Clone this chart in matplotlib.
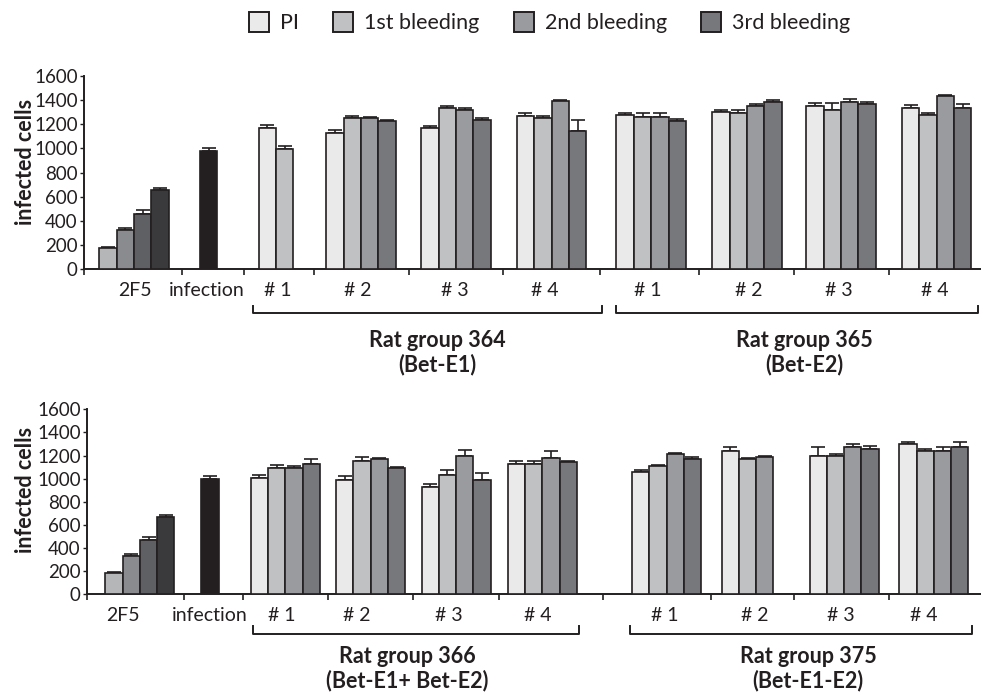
import matplotlib
matplotlib.use("Agg")
import matplotlib.pyplot as plt
from matplotlib.patches import Patch
from matplotlib.transforms import blended_transform_factory

plt.rcParams['font.family'] = ['Lato', 'DejaVu Sans']

# ---- data ----
series = ['PI', '1st bleeding', '2nd bleeding', '3rd bleeding']
cats = ['2F5', 'infection', '# 1', '# 2', '# 3', '# 4', '# 1', '# 2', '# 3', '# 4']

# top panel: rat groups 364 and 365
top_vals = [
    [180, 322, 460, 655],
    [978],
    [1168, 997],
    [1124, 1250, 1250, 1226],
    [1170, 1336, 1319, 1237],
    [1264, 1253, 1393, 1143],
    [1272, 1256, 1256, 1228],
    [1303, 1289, 1352, 1383],
    [1352, 1316, 1383, 1369],
    [1333, 1272, 1429, 1333],
]
top_err = [
    [5, 17, 28, 14],
    [22],
    [25, 19],
    [30, 19, 11, 11],
    [11, 11, 17, 11],
    [28, 14, 8, 91],
    [19, 39, 39, 17],
    [17, 30, 17, 17],
    [22, 58, 22, 17],
    [22, 19, 14, 36],
]
# bottom panel: rat groups 366 and 375
bot_vals = [
    [187, 329, 473, 669],
    [998],
    [1006, 1093, 1093, 1124],
    [986, 1156, 1170, 1096],
    [928, 1032, 1199, 986],
    [1124, 1124, 1182, 1142],
    [1061, 1110, 1214, 1170],
    [1243, 1168, 1185],
    [1196, 1196, 1271, 1260],
    [1303, 1243, 1243, 1271],
]
bot_err = [
    [5, 17, 26, 17],
    [23],
    [26, 29, 17, 46],
    [35, 29, 9, 9],
    [29, 46, 46, 63],
    [29, 29, 60, 14],
    [14, 12, 12, 17],
    [32, 12, 14],
    [75, 14, 32, 26],
    [17, 17, 29, 46],
]
top_groups = ['Rat group 364\n(Bet-E1)', 'Rat group 365\n(Bet-E2)']
bot_groups = ['Rat group 366\n(Bet-E1+ Bet-E2)', 'Rat group 375\n(Bet-E1-E2)']

# ---- style / layout ----
bleed_colors = ['#e9eae9', '#c0c1c3', '#9a9b9e', '#77787c']
f5_colors = ['#b5b6b8', '#8a8b8e', '#5f6064', '#3a3a3c']
inf_color = '#231f20'
edge = '#231f20'

fig = plt.figure(figsize=(9.81, 6.97), dpi=100)

panels = [
    dict(rect=[84 / 981, 0.6136, 897 / 981, 0.2778], xmax=51.55,
         vals=top_vals, err=top_err, groups=top_groups,
         centers=[2.87, 7.16, 11.03, 15.92, 21.38, 26.87, 32.6, 38.1, 43.5, 49.0],
         labpos=[2.93, 7.07, 11.15, 15.75, 21.3, 26.5, 32.4, 38.2, 43.4, 48.9],
         ticks=[0, 5.63, 9.2, 13.2, 18.68, 24.1, 29.66, 35.34, 40.8, 46.26],
         brackets=[(9.71, 29.77), (30.6, 51.4)], by=(0.5509, 0.561),
         gx=[20.3, 41.4], gy=0.494, ylab_y=0.768),
    dict(rect=[87 / 981, 0.1473, 894 / 981, 0.2654], xmax=51.83,
         vals=bot_vals, err=bot_err, groups=bot_groups,
         centers=[3.07, 7.13, 11.5, 16.45, 21.4, 26.4, 33.6, 38.3, 43.9, 49.1],
         labpos=[2.09, 7.13, 11.3, 15.65, 21.0, 26.14, 33.5, 38.7, 43.7, 48.5],
         ticks=[0, 5.62, 9.04, 13.97, 18.9, 23.9, 29.9, 36.2, 41.0, 46.5],
         brackets=[(9.62, 28.5), (31.5, 51.3)], by=(0.0904, 0.1019),
         gx=[18.55, 41.8], gy=0.0409, ylab_y=0.297),
]

for p in panels:
    ax = fig.add_axes(p['rect'])
    for k, (vals, errs) in enumerate(zip(p['vals'], p['err'])):
        n = len(vals)
        if k == 0:
            cols = f5_colors
        elif k == 1:
            cols = [inf_color]
        else:
            cols = bleed_colors
        xs = [p['centers'][k] + (i - (n - 1) / 2) for i in range(n)]
        ax.bar(xs, vals, width=1.0, color=cols[:n], edgecolor=edge,
               linewidth=1.2, zorder=3)
        ax.errorbar(xs, vals, yerr=[[0] * n, errs], fmt='none', ecolor=edge,
                    elinewidth=1.2, capsize=5, capthick=1.2, zorder=2)

    ax.set_xlim(0, p['xmax'])
    ax.set_ylim(0, 1600)
    ax.set_yticks(range(0, 1601, 200))
    ax.tick_params(axis='y', labelsize=13.5, length=3, width=1, pad=1.5,
                   colors='#231f20')
    ax.set_xticks(p['ticks'])
    ax.set_xticklabels([])
    ax.tick_params(axis='x', which='major', length=4, width=1.2,
                   colors='#231f20')
    ax.set_xticks(p['labpos'], minor=True)
    ax.set_xticklabels(cats, minor=True)
    ax.tick_params(axis='x', which='minor', length=0, pad=9, labelsize=14,
                   labelcolor='#231f20')
    for s in ['top', 'right']:
        ax.spines[s].set_visible(False)
    for s in ['left', 'bottom']:
        ax.spines[s].set_color('#231f20')
        ax.spines[s].set_linewidth(1.4)

    tr = blended_transform_factory(ax.transData, fig.transFigure)
    y0, y1 = p['by']
    for (a, b), g, gx in zip(p['brackets'], p['groups'], p['gx']):
        ax.plot([a, a, b, b], [y1, y0, y0, y1], color='#231f20', lw=1.4,
                transform=tr, clip_on=False)
        ax.text(gx, p['gy'], g, transform=tr, ha='center', va='center',
                fontsize=15.5, fontweight='bold', color='#231f20',
                linespacing=1.15)

    fig.text(0.026, p['ylab_y'], 'infected cells', rotation=90, ha='center',
             va='center', fontsize=15.5, fontweight='bold', color='#231f20')

handles = [Patch(facecolor=c, edgecolor=edge, linewidth=1.4) for c in bleed_colors]
fig.legend(handles, series, loc='center', bbox_to_anchor=(549.5 / 981, 0.968),
           ncol=4, frameon=False, fontsize=15.5, handlelength=0.93,
           handleheight=1.07, handletextpad=0.5, columnspacing=1.6,
           labelcolor='#231f20')

fig.savefig('out.png', dpi=100)
